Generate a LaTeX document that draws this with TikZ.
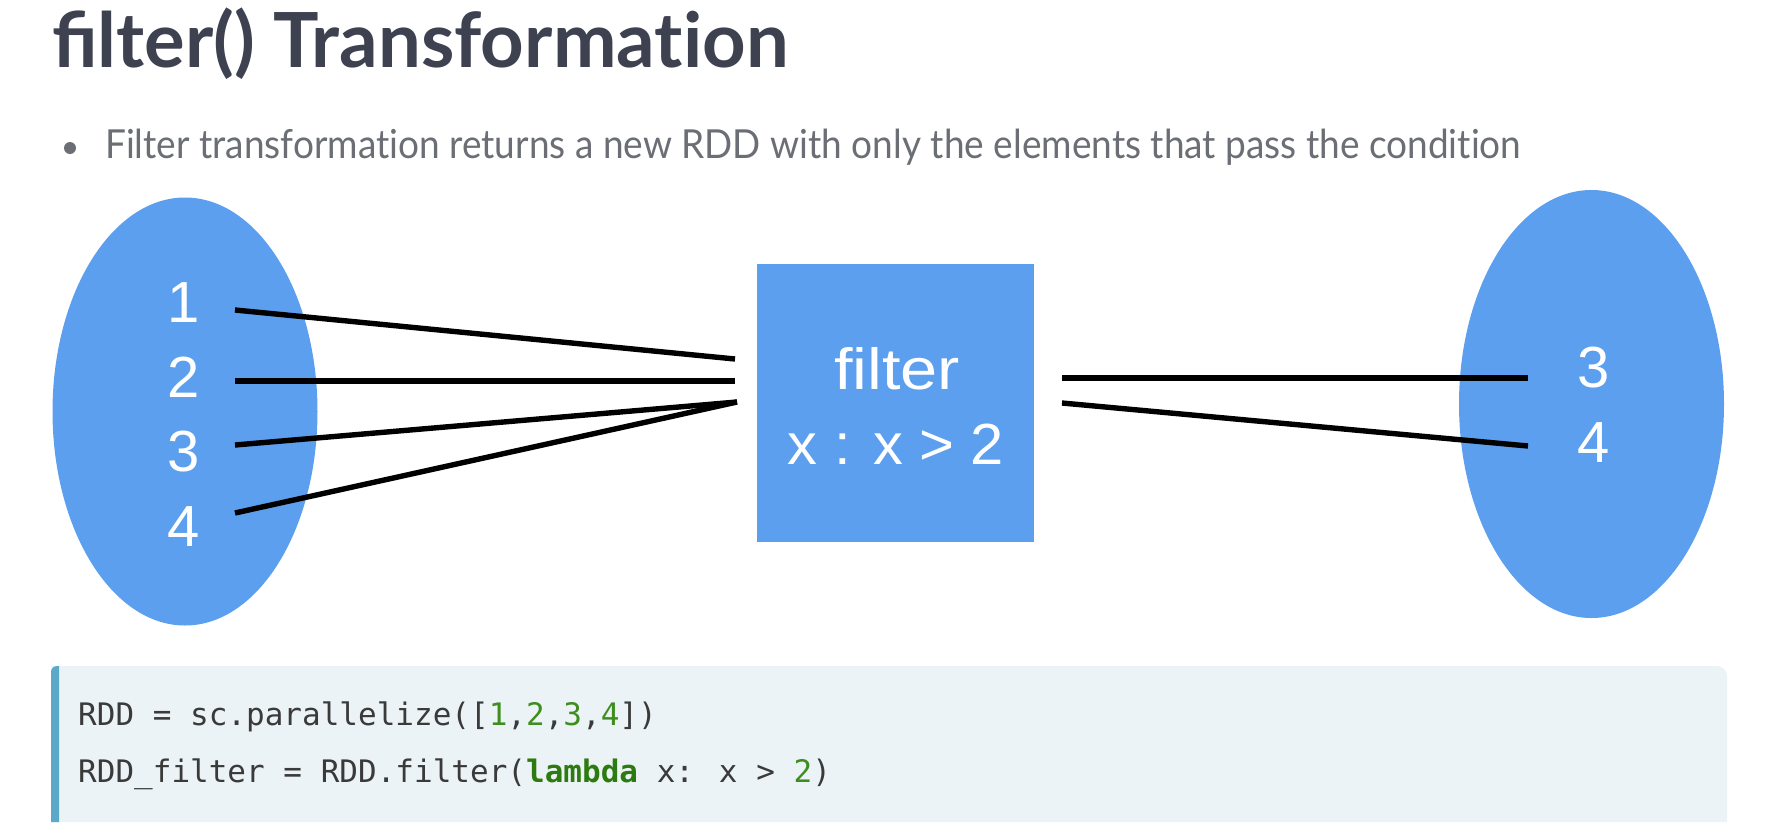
\documentclass[tikz,border=0pt]{standalone}
\usepackage{fontspec}
\setmainfont{Lato}
\newfontfamily\diagfont{Liberation Sans}
\newfontfamily\codefont{DejaVu Sans Mono}
\usetikzlibrary{shapes.geometric}
\definecolor{titlec}{HTML}{3D4150}
\definecolor{bulletc}{HTML}{6B6E75}
\definecolor{blobc}{HTML}{5C9FEF}
\definecolor{codebg}{HTML}{ECF3F7}
\definecolor{codebar}{HTML}{5AA9C9}
\definecolor{codetext}{HTML}{3A3A3A}
\definecolor{codenum}{HTML}{3E8E1E}
\definecolor{codekw}{HTML}{2D7B10}
\tikzset{
  blob/.style={ellipse, fill=blobc, draw=none, inner sep=0pt, minimum width=265pt, minimum height=428pt},
  digit/.style={text=white, font=\diagfont\fontsize{58}{60}\selectfont, inner sep=0pt, anchor=center},
  fbox/.style={rectangle, fill=blobc, draw=none, inner sep=0pt, minimum width=277pt, minimum height=278pt},
  ftext/.style={text=white, font=\diagfont\fontsize{58}{60}\selectfont, inner sep=0pt, anchor=base},
  link/.style={line width=5.4pt, black},
  codeline/.style={anchor=base west, inner sep=0pt, text=codetext, font=\codefont\fontsize{31}{34}\selectfont}
}
\begin{document}
\begin{tikzpicture}[x=1pt,y=-1pt]
\useasboundingbox (0,0) rectangle (1778,836);
\fill[white] (0,0) rectangle (1778,836);

% title and bullet
\node[anchor=base west, inner sep=0pt, text=titlec, font=\bfseries\fontsize{76}{84}\selectfont] (title) at (52,67) {filter() Transformat\kern0pt ion};
\fill[bulletc] (70,148) circle (6pt);
\node[anchor=base west, inner sep=0pt, text=bulletc, font=\fontsize{40}{44}\selectfont] (bullet) at (105,158) {\scalebox{0.925}[1]{Filter transformat\kern0pt ion returns a new RDD with only the elements that pass the condit\kern0pt ion}};

% left RDD
\node[blob] (left) at (185,411.5) {};
\node[digit] (d1) at (184,303) {1};
\node[digit] (d2) at (184,377) {2};
\node[digit] (d3) at (184,452) {3};
\node[digit] (d4) at (184,527) {4};

% filter box
\node[fbox] (filt) at (895.5,403) {};
\node[ftext] (ft1) at (897,389) {\scalebox{1.15}[1]{filter}};
\node[ftext] (ft2) at (896,464) {\scalebox{1.03}[1]{x : x > 2}};

% right RDD
\node[blob] (right) at (1591.5,404) {};
\node[digit] (r3) at (1594,368) {3};
\node[digit] (r4) at (1594,443) {4};

% connector end points
\coordinate (a1) at (235,310);
\coordinate (a2) at (235,381);
\coordinate (a3) at (235,445);
\coordinate (a4) at (235,513);
\coordinate (b1) at (735,359);
\coordinate (b2) at (735,381);
\coordinate (b3) at (737,402);
\coordinate (c1) at (1062,378);
\coordinate (c2) at (1062,403);
\coordinate (e1) at (1528,378);
\coordinate (e2) at (1528,446);

\draw[link] (a1) -- (b1);
\draw[link] (a2) -- (b2);
\draw[link] (a3) -- (b3);
\draw[link] (a4) -- (b3);
\draw[link] (c1) -- (e1);
\draw[link] (c2) -- (e2);

% code block
\fill[codebg] (51,822) -- (51,666) -- (1717,666) arc[start angle=90, end angle=0, radius=10pt] -- (1727,822) -- cycle;
\fill[codebar] (51,822) -- (51,672) arc[start angle=180, end angle=90, radius=6pt] -- (59,666) -- (59,822) -- cycle;
\node[codeline] (code1) at (78,725) {RDD = sc.parallelize([\textcolor{codenum}{1},\textcolor{codenum}{2},\textcolor{codenum}{3},\textcolor{codenum}{4}])};
\node[codeline] (code2) at (78,782) {RDD\symbol{95}filter = RDD.filter(\textcolor{codekw}{\bfseries lambda} x: x > \textcolor{codenum}{2})};
\end{tikzpicture}
\end{document}
